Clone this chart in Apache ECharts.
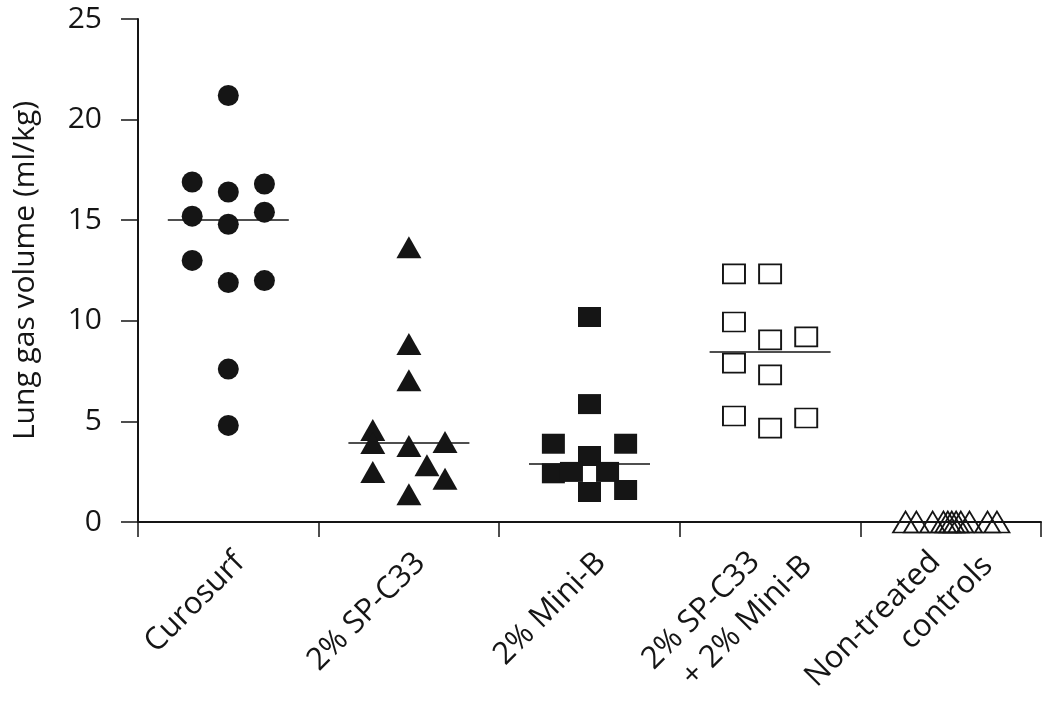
<!DOCTYPE html>
<html>
<head>
<meta charset="utf-8">
<script src="https://cdn.jsdelivr.net/npm/echarts@6/dist/echarts.min.js"></script>
<style>
html, body { margin: 0; padding: 0; background: #fff; }
#echart { width: 1050px; height: 707px; }
</style>
</head>
<body>
<div id="echart"></div>
<script>
// categories and y ticks
var categories = ['Curosurf', '2% SP-C33', '2% Mini-B', '2% SP-C33\n+ 2% Mini-B', 'Non-treated\ncontrols'];
var yTicks = [0, 5, 10, 15, 20, 25];

// values per group (ml/kg), with the column slot each point sits in
var curosurf = [21.2, 16.4, 14.8, 11.9, 7.6, 4.8, 16.9, 15.2, 13.0, 16.8, 15.4, 12.0];
var curosurfSlot = [0, 0, 0, 0, 0, 0, -1, -1, -1, 1, 1, 1];
var spc33 = [13.65, 8.85, 7.05, 3.78, 1.38, 4.57, 3.93, 2.49, 3.98, 2.15, 2.82];
var spc33Slot = [0, 0, 0, 0, 0, -1, -1, -1, 1, 1, 0.5];
var miniB = [10.19, 5.86, 3.89, 2.42, 3.28, 1.49, 2.49, 2.49, 3.89, 1.59];
var miniBSlot = [0, 0, -1, -1, 0, 0, -0.5, 0.5, 1, 1];
var combo = [12.33, 9.94, 7.9, 5.27, 12.33, 9.05, 7.31, 4.67, 9.2, 5.17];
var comboSlot = [-1, -1, -1, -1, 0, 0, 0, 0, 1, 1];
var controls = [0, 0, 0, 0, 0, 0, 0, 0, 0, 0, 0];
var controlsSlot = [-1.25, -0.95, -0.5, -0.2, -0.08, 0.03, 0.15, 0.28, 0.52, 1.02, 1.28];
// medians drawn as horizontal bars
var medians = [15.0, 3.93, 2.88, 8.45, null];

var myChart = echarts.init(document.getElementById('echart'));
var ink = '#151515';
var slotWidth = 0.2;
var halfBar = 0.335;
var labelFont = { fontSize: 31, fontFamily: 'Open Sans', color: ink, lineHeight: 40 };

function points(values, slots, idx) {
	var out = [];
	for (var i = 0; i < values.length; i++) {
		out.push([idx + 0.5 + slots[i] * slotWidth, values[i]]);
	}
	return out;
}

function medianLine(idx) {
	if (medians[idx] == null) return undefined;
	return {
		symbol: 'none',
		silent: true,
		z: 1,
		label: { show: false },
		lineStyle: { color: ink, width: 1.6, type: 'solid', opacity: 1 },
		data: [[{ coord: [idx + 0.5 - halfBar, medians[idx]] }, { coord: [idx + 0.5 + halfBar, medians[idx]] }]]
	};
}

var groups = [
	{ values: curosurf, slots: curosurfSlot, symbol: 'circle', size: 21, filled: true },
	{ values: spc33, slots: spc33Slot, symbol: 'triangle', size: [25, 22], filled: true },
	{ values: miniB, slots: miniBSlot, symbol: 'rect', size: [23, 20], filled: true },
	{ values: combo, slots: comboSlot, symbol: 'rect', size: [22, 19], filled: false },
	{ values: controls, slots: controlsSlot, symbol: 'triangle', size: [25, 21], filled: false }
];

var series = groups.map(function (g, idx) {
	return {
		type: 'scatter',
		xAxisIndex: 1,
		symbol: g.symbol,
		symbolSize: g.size,
		z: 3,
		itemStyle: g.filled
			? { color: ink, borderColor: ink, borderWidth: 0, opacity: 1 }
			: { color: 'rgba(255,255,255,0)', borderColor: ink, borderWidth: 1.8, opacity: 1 },
		data: points(g.values, g.slots, idx),
		markLine: medianLine(idx)
	};
});

var option = {
	backgroundColor: '#ffffff',
	animation: false,
	grid: {
		left: 138,
		right: 9,
		top: 19,
		bottom: 185,
		containLabel: false,
		outerBoundsMode: 'none'
	},
	xAxis: [{
		type: 'category',
		data: categories,
		boundaryGap: true,
		axisLine: { lineStyle: { color: ink, width: 2 } },
		axisTick: { show: true, length: 15, inside: false, interval: 0, lineStyle: { color: ink, width: 1.5 } },
		axisLabel: {
			interval: 0,
			rotate: 45,
			margin: 2,
			color: ink,
			fontSize: 31,
			fontFamily: 'Open Sans',
			lineHeight: 40,
			formatter: function (value) {
				var lines = value.split('\n');
				if (lines.length > 1) {
					return '{a|' + lines[0] + '}\n{b|' + lines[1] + '}';
				}
				return '{s|' + value + '}';
			},
			rich: {
				s: Object.assign({ padding: [64, 16, 0, 0] }, labelFont),
				a: Object.assign({ padding: [65, 34, 0, 0] }, labelFont),
				b: Object.assign({ padding: [65, 0, 0, 0] }, labelFont)
			}
		},
		splitLine: { show: false }
	}, {
		type: 'value',
		min: 0,
		max: 5,
		show: false
	}],
	yAxis: {
		type: 'value',
		min: yTicks[0],
		max: yTicks[yTicks.length - 1],
		interval: 5,
		name: 'Lung gas volume (ml/kg)',
		nameLocation: 'middle',
		nameGap: 98,
		nameTextStyle: { color: ink, fontSize: 30, fontFamily: 'Open Sans' },
		axisLine: { show: true, lineStyle: { color: ink, width: 2 } },
		axisTick: { show: true, length: 17, lineStyle: { color: ink, width: 1.5 } },
		axisLabel: { color: ink, fontSize: 30, fontFamily: 'Open Sans', margin: 36 },
		splitLine: { show: false }
	},
	series: series
};
myChart.setOption(option);
</script>
</body>
</html>
